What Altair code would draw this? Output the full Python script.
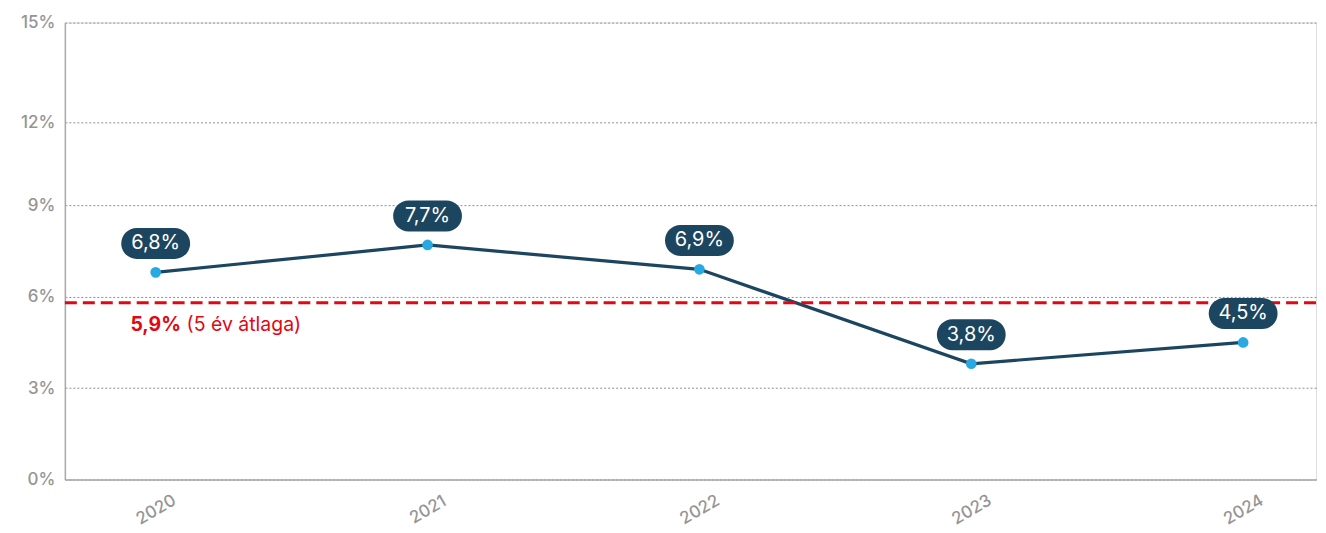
import altair as alt
import pandas as pd

years = [2020, 2021, 2022, 2023, 2024]
values = [6.8, 7.7, 6.9, 3.8, 4.5]
labels = ["6,8%", "7,7%", "6,9%", "3,8%", "4,5%"]
avg_line_value = 5.8
avg_bold = "5,9%"
avg_text = "(5 év átlaga)"
# gridline positions (the "12%" line sits a bit low)
y_tick_positions = [0, 3, 6, 9, 11.72, 15]
y_tick_labels = ["0%", "3%", "6%", "9%", "12%", "15%"]

FONT = "Inter"
NAVY = "#1c4560"
RED = "#e30613"
GREY = "#959595"

df = pd.DataFrame({"year": years, "value": values, "label": labels})
avg_df = pd.DataFrame({"year": [years[0]], "value": [avg_line_value],
                       "bold": [avg_bold], "text": [avg_text]})

label_expr = ("{" + ",".join(f"'{p}':'{l}'" for p, l in zip(y_tick_positions, y_tick_labels))
              + "}[datum.value]")

x_enc = alt.X("year:Q",
              scale=alt.Scale(domain=[2019.666, 2024.268], nice=False, zero=False),
              axis=alt.Axis(values=years, format="d", title=None, grid=False,
                            ticks=False, labelAngle=-30, labelAlign="center",
                            labelBaseline="middle", labelPadding=30,
                            labelFontSize=17, labelColor=GREY, labelFont=FONT,
                            labelFontWeight=500,
                            domainColor="#aaaaaa", domainWidth=1.5))
y_enc = alt.Y("value:Q",
              scale=alt.Scale(domain=[0, 15], nice=False),
              axis=alt.Axis(values=y_tick_positions, title=None, grid=True,
                            gridDash=[2, 2], gridColor="#8f8f8f", gridWidth=1,
                            ticks=False, labelPadding=10, labelFontSize=17,
                            labelColor=GREY, labelFont=FONT, labelFontWeight=500,
                            labelExpr=label_expr,
                            domainColor="#aaaaaa", domainWidth=1.5))

base = alt.Chart(df)

line = base.mark_line(color=NAVY, strokeWidth=3.2).encode(x=x_enc, y=y_enc)
pts = base.mark_point(filled=True, color="#29a9e1", size=115, opacity=1,
                      shape="circle").encode(x="year:Q", y="value:Q")

pill_path = ("M -0.55 -0.45 L 0.55 -0.45 A 0.45 0.45 0 0 1 0.55 0.45 "
             "L -0.55 0.45 A 0.45 0.45 0 0 1 -0.55 -0.45 Z")
pills = base.mark_point(filled=True, color=NAVY, opacity=1, shape=pill_path,
                        size=69 * 69, yOffset=-29).encode(x="year:Q", y="value:Q")
pill_text = base.mark_text(color="white", fontSize=20, font=FONT,
                           yOffset=-29, baseline="middle", align="center").encode(
    x="year:Q", y="value:Q", text="label:N")

avg_rule = alt.Chart(avg_df).mark_rule(color=RED, strokeWidth=3,
                                       strokeDash=[12, 6]).encode(y="value:Q")
avg_b = alt.Chart(avg_df).mark_text(color=RED, fontSize=19.5, font=FONT,
                                    fontWeight="bold", align="center",
                                    baseline="middle", dy=22).encode(
    x="year:Q", y="value:Q", text="bold:N")
avg_t = alt.Chart(avg_df).mark_text(color=RED, fontSize=19.5, font=FONT,
                                    align="left", baseline="middle",
                                    dx=31, dy=22).encode(
    x="year:Q", y="value:Q", text="text:N")

chart = alt.layer(line, avg_rule, pts, pills, pill_text, avg_b, avg_t).properties(
    width=1254, height=458,
    padding={"left": 12, "top": 5, "right": 0, "bottom": 5},
).configure_view(stroke=None).configure(background="white")

chart.save("out.html", embed_options={"renderer": "svg", "actions": False})
